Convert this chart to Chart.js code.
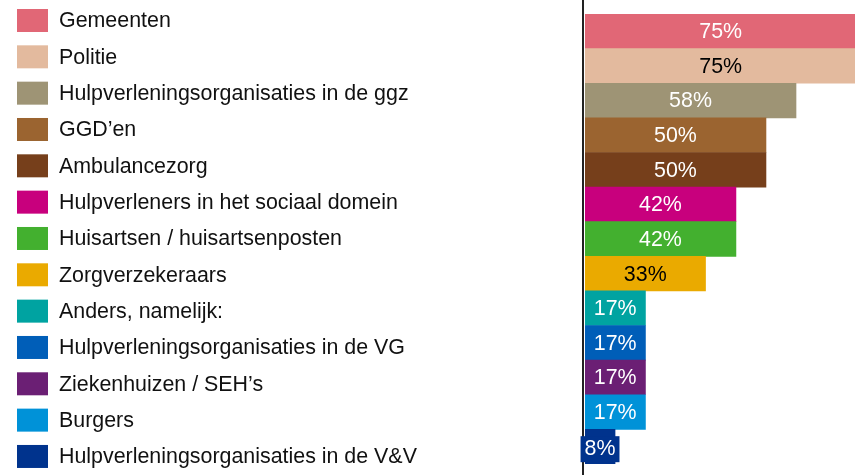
<!DOCTYPE html>
<html>
<head>
<meta charset="utf-8">
<style>
  html, body { margin: 0; padding: 0; background: #fff; overflow: hidden; }
  #chart { display: block; }
</style>
<script src="https://cdn.jsdelivr.net/npm/chart.js@4.4.0/dist/chart.umd.min.js"></script>
</head>
<body>
<canvas id="chart" width="855" height="475"></canvas>
<script>
// categories (top to bottom) and share in percent
const categories = [
    'Gemeenten',
    'Politie',
    'Hulpverleningsorganisaties in de ggz',
    'GGD\u2019en',
    'Ambulancezorg',
    'Hulpverleners in het sociaal domein',
    'Huisartsen / huisartsenposten',
    'Zorgverzekeraars',
    'Anders, namelijk:',
    'Hulpverleningsorganisaties in de VG',
    'Ziekenhuizen / SEH\u2019s',
    'Burgers',
    'Hulpverleningsorganisaties in de V&V'
];
const percentages = [75, 75, 58.3, 50, 50, 41.7, 41.7, 33.3, 16.7, 16.7, 16.7, 16.7, 8.3];

// styling
const barColors = [
    '#E16776', '#E3BA9E', '#9E9475', '#9B6430', '#763F1B', '#C8007D', '#43B02F',
    '#EAAA00', '#00A3A1', '#005EB8', '#6B1F74', '#0092D8', '#00338D'
];
const labelColors = [
    '#ffffff', '#000000', '#ffffff', '#ffffff', '#ffffff', '#ffffff', '#ffffff',
    '#000000', '#ffffff', '#ffffff', '#ffffff', '#ffffff', '#ffffff'
];
const FONT = '21.4px "Liberation Sans", Arial, sans-serif';

const axisLine = {
    id: 'axisLine',
    beforeDatasetsDraw(chart) {
        const ctx = chart.ctx;
        const x = chart.chartArea.left - 2;
        ctx.save();
        ctx.strokeStyle = '#222';
        ctx.lineWidth = 2;
        ctx.beginPath();
        ctx.moveTo(x, 0);
        ctx.lineTo(x, chart.height);
        ctx.stroke();
        ctx.restore();
    }
};

const barLabels = {
    id: 'barLabels',
    afterDatasetsDraw(chart) {
        const ctx = chart.ctx;
        const meta = chart.getDatasetMeta(0);
        ctx.save();
        ctx.font = FONT;
        ctx.textAlign = 'center';
        ctx.textBaseline = 'middle';
        meta.data.forEach((bar, i) => {
            const text = Math.round(percentages[i]) + '%';
            const cx = (bar.x + bar.base) / 2;
            const w = ctx.measureText(text).width;
            // label wider than its bar gets a box in the bar colour
            if (w > Math.abs(bar.x - bar.base)) {
                ctx.fillStyle = barColors[i];
                ctx.fillRect(cx - w / 2 - 4, bar.y - 10.5, w + 8, 26);
            }
            ctx.fillStyle = labelColors[i];
            ctx.fillText(text, cx, bar.y + (i === meta.data.length - 1 ? 2.5 : 1));
        });
        ctx.restore();
    }
};

const sideLegend = {
    id: 'sideLegend',
    afterDraw(chart) {
        const ctx = chart.ctx;
        ctx.save();
        ctx.font = FONT;
        ctx.textAlign = 'left';
        ctx.textBaseline = 'middle';
        chart.data.labels.forEach((label, i) => {
            const top = 9 + i * 36.33;
            ctx.fillStyle = barColors[i];
            ctx.fillRect(17, top, 31, 23);
            ctx.fillStyle = '#111';
            ctx.fillText(label, 59, top + 12.5);
        });
        ctx.restore();
    }
};

new Chart(document.getElementById('chart'), {
    type: 'bar',
    data: {
        labels: categories,
        datasets: [{
            data: percentages,
            backgroundColor: barColors,
            borderWidth: 0,
            barPercentage: 1,
            categoryPercentage: 1
        }]
    },
    options: {
        indexAxis: 'y',
        responsive: false,
        animation: false,
        layout: { padding: { left: 585, right: 0, top: 14, bottom: 11 } },
        scales: {
            x: { display: false, min: 0, max: 74.6 },
            y: { display: false }
        },
        plugins: {
            legend: { display: false },
            tooltip: { enabled: false }
        }
    },
    plugins: [axisLine, barLabels, sideLegend]
});
</script>
</body>
</html>
